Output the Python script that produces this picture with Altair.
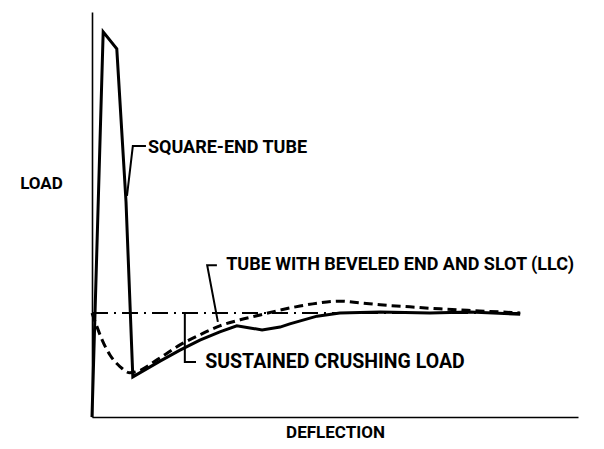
import altair as alt
import pandas as pd

# Square-end tube (solid)
solid_x = [0, 2.3, 5.1, 7.0, 8.4, 14.0, 18.1, 22.2, 26.3, 29.8, 32.5, 35.0, 38.7, 40.7, 46.3, 51.0, 59.3, 69.5, 77.8, 88.1]
solid_y = [0, 95.1, 90.9, 53.1, 9.9, 13.8, 16.5, 19.0, 21.0, 22.5, 22.0, 21.5, 22.2, 23.0, 24.9, 25.7, 25.9, 25.7, 25.9, 25.4]

# Tube with beveled end and slot (dashed)
dash_x = [0, 0.8, 2.1, 3.7, 5.8, 7.8, 8.9, 14.0, 18.1, 22.2, 26.3, 30.5, 34.6, 38.7, 42.8, 46.9, 51.0, 55.1, 59.3, 65.4, 71.6, 79.8, 88.1]
dash_y = [25.7, 23.0, 19.0, 15.3, 12.4, 10.9, 11.1, 14.6, 17.8, 20.3, 22.5, 24.0, 25.2, 26.4, 27.4, 28.2, 28.6, 28.2, 27.7, 27.2, 26.7, 26.2, 25.7]

# Sustained crushing load (dash-dot)
sus_x = [0, 88.1]
sus_y = [25.7, 25.7]

# Leader lines
lead_id = ["a", "a", "a", "b", "b", "b", "c", "c", "c"]
lead_x = [11.1, 8.4, 7.2, 25.7, 23.7, 25.9, 19.1, 19.1, 21.4]
lead_y = [66.9, 66.9, 54.6, 37.5, 37.5, 23.5, 25.7, 13.6, 13.6]

# Labels
label_text = ["SQUARE-END TUBE", "TUBE WITH BEVELED END AND SLOT (LLC)"]
label_x = [11.5, 27.6]
label_y = [66.4, 37.5]
sus_label = ["SUSTAINED CRUSHING LOAD"]
sus_label_x = [23.3]
sus_label_y = [13.6]

FONT = "Roboto"

xs = alt.Scale(domain=[0, 100], nice=False, zero=False)
ys = alt.Scale(domain=[0, 100], nice=False, zero=False)

solid_df = pd.DataFrame({"x": solid_x, "y": solid_y})
dash_df = pd.DataFrame({"x": dash_x, "y": dash_y})
sus_df = pd.DataFrame({"x": sus_x, "y": sus_y})
lead_df = pd.DataFrame({"id": lead_id, "x": lead_x, "y": lead_y})
lab_df = pd.DataFrame({"t": label_text, "x": label_x, "y": label_y})
sus_lab_df = pd.DataFrame({"t": sus_label, "x": sus_label_x, "y": sus_label_y})

xaxis = alt.Axis(title="DEFLECTION", ticks=False, labels=False, grid=False,
                 domainColor="black", domainWidth=1.6, titleY=15, titleBaseline="middle",
                 titleFont=FONT, titleFontSize=17, titleFontWeight="bold", titleColor="black")
yaxis = alt.Axis(title="LOAD", ticks=False, labels=False, grid=False,
                 domainColor="black", domainWidth=1.6, titleAngle=0, titleX=-51, titleY=171,
                 titleAlign="center", titleBaseline="middle",
                 titleFont=FONT, titleFontSize=17, titleFontWeight="bold", titleColor="black")

solid = alt.Chart(solid_df).mark_line(color="black", strokeWidth=3, interpolate="linear").encode(
    x=alt.X("x:Q", scale=xs, axis=xaxis),
    y=alt.Y("y:Q", scale=ys, axis=yaxis),
    order="x:Q",
)

dashed = alt.Chart(dash_df).mark_line(color="black", strokeWidth=3, strokeDash=[9, 5], interpolate="monotone").encode(
    x=alt.X("x:Q", scale=xs), y=alt.Y("y:Q", scale=ys), order="x:Q"
)

sus = alt.Chart(sus_df).mark_line(color="black", strokeWidth=2, strokeDash=[16, 6, 2, 6]).encode(
    x=alt.X("x:Q", scale=xs), y=alt.Y("y:Q", scale=ys)
)

leaders = alt.Chart(lead_df).mark_line(color="black", strokeWidth=2).encode(
    x=alt.X("x:Q", scale=xs), y=alt.Y("y:Q", scale=ys), detail="id:N", order=alt.Order("idx:Q")
).transform_window(idx="row_number()", groupby=["id"])

labels = alt.Chart(lab_df).mark_text(align="left", baseline="middle", font=FONT, fontSize=18,
                                     fontWeight="bold", color="black").encode(
    x=alt.X("x:Q", scale=xs), y=alt.Y("y:Q", scale=ys), text="t:N"
)

sus_labels = alt.Chart(sus_lab_df).mark_text(align="left", baseline="middle", font=FONT, fontSize=19.5,
                                             fontWeight="bold", color="black").encode(
    x=alt.X("x:Q", scale=xs), y=alt.Y("y:Q", scale=ys), text="t:N"
)

chart = alt.layer(solid, dashed, sus, leaders, labels, sus_labels).properties(
    width=486, height=405,
    background="white",
    autosize=alt.AutoSizeParams(type="none"),
    padding={"left": 84, "top": 4, "right": 16, "bottom": 23},
).configure_view(stroke=None, strokeWidth=0)

chart.save("out.html", embed_options={"renderer": "svg", "actions": False})
